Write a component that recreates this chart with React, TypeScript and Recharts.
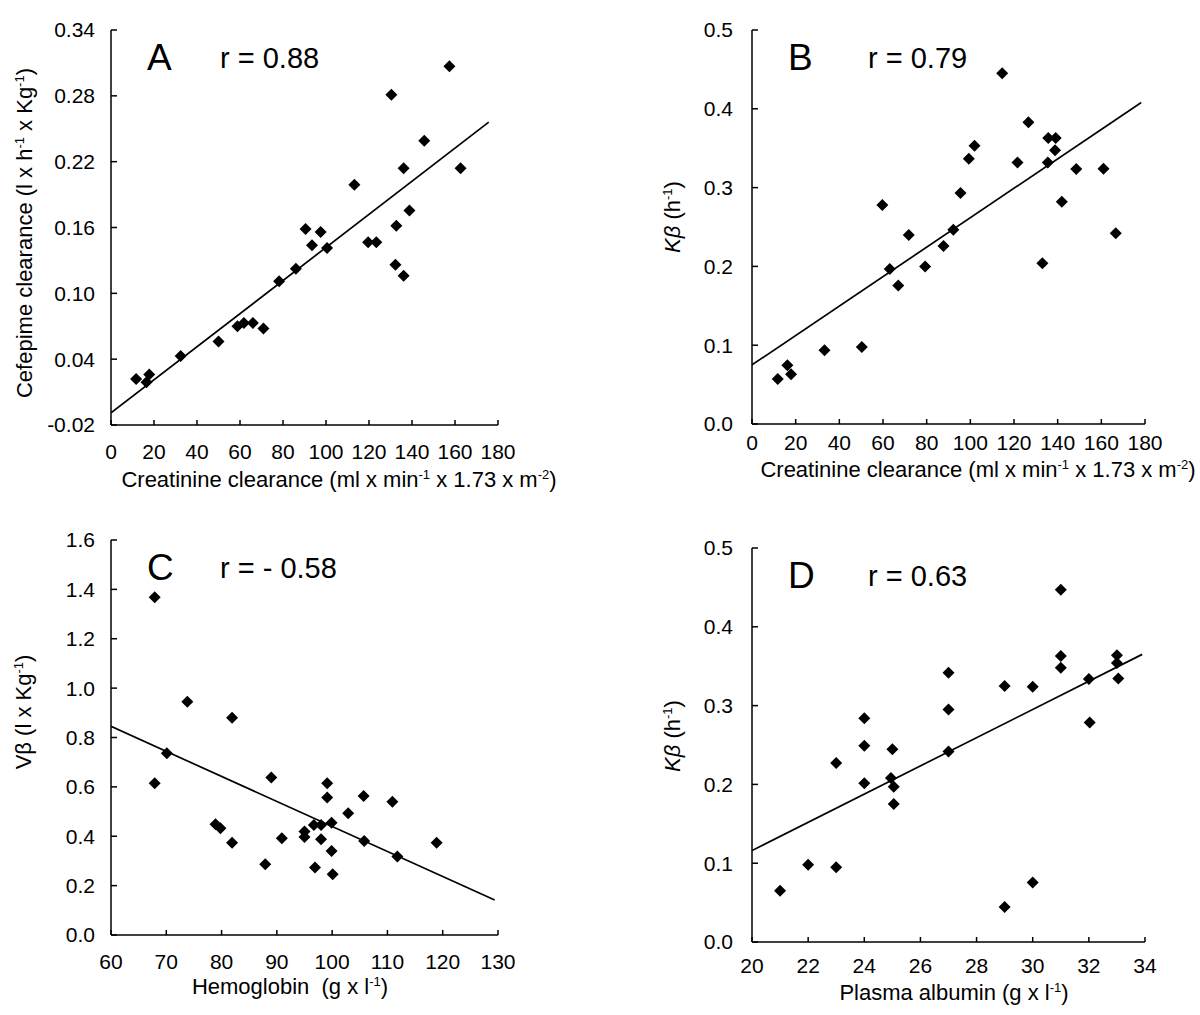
import React from 'react';
import { ScatterChart, Scatter, XAxis, YAxis } from 'recharts';

// ---------- Panel A: Cefepime clearance vs creatinine clearance ----------
const aX = [11.7, 16.5, 17.8, 32.4, 50, 58.8, 61.8, 66, 70.9, 78.2, 86, 90.5, 93.5, 97.5, 100.5, 113.2, 119.6, 123.4, 130.4, 132.7, 132.3, 136.1, 136.1, 138.8, 145.7, 157.4, 162.6];
const aY = [0.022, 0.019, 0.026, 0.043, 0.056, 0.07, 0.073, 0.073, 0.068, 0.111, 0.1225, 0.1586, 0.1438, 0.156, 0.1413, 0.199, 0.1465, 0.1465, 0.281, 0.1617, 0.126, 0.214, 0.116, 0.1756, 0.239, 0.307, 0.214];
const aLineX = [0, 175.7];
const aLineY = [-0.009, 0.256];
const aXTicks = [0, 20, 40, 60, 80, 100, 120, 140, 160, 180];
const aYTicks = [-0.02, 0.04, 0.1, 0.16, 0.22, 0.28, 0.34];

// ---------- Panel B: Kbeta vs creatinine clearance ----------
const bX = [11.8, 16.2, 17.9, 33.2, 50.3, 59.7, 63.1, 67, 71.8, 79.3, 87.7, 92.2, 95.5, 99.3, 101.9, 114.6, 121.6, 126.6, 133, 135.7, 135.5, 139.1, 138.8, 141.9, 148.5, 161, 166.6];
const bY = [0.057, 0.0746, 0.063, 0.0935, 0.0977, 0.278, 0.1967, 0.1757, 0.24, 0.2, 0.226, 0.2464, 0.293, 0.3366, 0.353, 0.445, 0.332, 0.383, 0.204, 0.363, 0.332, 0.363, 0.3475, 0.282, 0.3235, 0.324, 0.242];
const bLineX = [0, 178.3];
const bLineY = [0.075, 0.408];
const bXTicks = [0, 20, 40, 60, 80, 100, 120, 140, 160, 180];
const bYTicks = [0, 0.1, 0.2, 0.3, 0.4, 0.5];

// ---------- Panel C: Vbeta vs hemoglobin ----------
const cX = [67.9, 67.9, 70.1, 73.8, 81.9, 78.9, 79.8, 81.9, 87.9, 89.0, 90.9, 95.0, 95.0, 96.7, 96.9, 98.0, 98.0, 99.1, 99.1, 99.9, 99.9, 100.1, 102.9, 105.7, 105.8, 110.9, 111.8, 118.9];
const cY = [1.368, 0.615, 0.7365, 0.945, 0.88, 0.449, 0.432, 0.374, 0.2865, 0.638, 0.392, 0.419, 0.397, 0.446, 0.273, 0.446, 0.388, 0.615, 0.557, 0.455, 0.34, 0.246, 0.493, 0.5635, 0.381, 0.54, 0.3176, 0.374];
const cLineX = [60, 129.4];
const cLineY = [0.845, 0.142];
const cXTicks = [60, 70, 80, 90, 100, 110, 120, 130];
const cYTicks = [0, 0.2, 0.4, 0.6, 0.8, 1.0, 1.2, 1.4, 1.6];

// ---------- Panel D: Kbeta vs plasma albumin ----------
const dX = [21, 22, 23, 23, 24, 24, 24, 25, 24.95, 25.05, 25.05, 27, 27, 27, 29, 29, 30, 30, 31, 31, 31, 32, 32.03, 33, 33, 33.05];
const dY = [0.065, 0.098, 0.095, 0.227, 0.284, 0.249, 0.2014, 0.2445, 0.208, 0.197, 0.175, 0.295, 0.3416, 0.2416, 0.325, 0.0443, 0.324, 0.0756, 0.447, 0.363, 0.348, 0.3336, 0.2787, 0.364, 0.354, 0.3345];
const dLineX = [20, 33.9];
const dLineY = [0.116, 0.365];
const dXTicks = [20, 22, 24, 26, 28, 30, 32, 34];
const dYTicks = [0, 0.1, 0.2, 0.3, 0.4, 0.5];

const FONT = '"Liberation Sans", Arial, Helvetica, sans-serif';

const zip = (xs: number[], ys: number[]) => xs.map((x, i) => ({ x, y: ys[i] }));

const Diamond = (props: any) => {
  const { cx, cy } = props;
  if (cx == null || cy == null) return <g />;
  const r = 6;
  return <path d={`M${cx},${cy - r}L${cx + r},${cy}L${cx},${cy + r}L${cx - r},${cy}Z`} fill="#000" />;
};

const NoShape = () => <g />;

type PanelProps = {
  left: number;
  top: number;
  width: number;
  height: number;
  margin: { top: number; right: number; bottom: number; left: number };
  xDomain: [number, number];
  yDomain: [number, number];
  xTicks: number[];
  yTicks: number[];
  yDigits: number;
  points: { x: number; y: number }[];
  line: { x: number; y: number }[];
  xTickMargin: number;
  yTickMargin: number;
};

function Panel(p: PanelProps) {
  const tickStyle = { fill: '#000', fontSize: 21, fontFamily: FONT };
  return (
    <div style={{ position: 'absolute', left: p.left, top: p.top, width: p.width, height: p.height }}>
      <ScatterChart width={p.width} height={p.height} margin={p.margin}>
        <XAxis
          type="number"
          dataKey="x"
          domain={p.xDomain}
          ticks={p.xTicks}
          allowDataOverflow
          height={30}
          tickSize={-5}
          tickMargin={p.xTickMargin}
          axisLine={{ stroke: '#000', strokeWidth: 1.5 }}
          tickLine={{ stroke: '#000', strokeWidth: 1.5 }}
          tick={tickStyle}
          interval={0}
        />
        <YAxis
          type="number"
          dataKey="y"
          domain={p.yDomain}
          ticks={p.yTicks}
          allowDataOverflow
          width={60}
          tickSize={-6}
          tickMargin={p.yTickMargin}
          axisLine={{ stroke: '#000', strokeWidth: 1.5 }}
          tickLine={{ stroke: '#000', strokeWidth: 1.5 }}
          tick={tickStyle}
          tickFormatter={(v: number) => v.toFixed(p.yDigits)}
          interval={0}
        />
        <Scatter data={p.line} line={{ stroke: '#000', strokeWidth: 1.7 }} shape={NoShape} isAnimationActive={false} />
        <Scatter data={p.points} shape={Diamond} isAnimationActive={false} />
      </ScatterChart>
    </div>
  );
}

const Sup = ({ children, size = 13 }: { children: React.ReactNode; size?: number }) => (
  <tspan dy={-8} fontSize={size}>{children}</tspan>
);

export default function App() {
  const titleSize = 22;
  const txt = { fontFamily: FONT, fill: '#000', style: { whiteSpace: 'pre' as const } };
  return (
    <div style={{ position: 'absolute', left: 0, top: 0, width: 1200, height: 1015, background: '#fff', overflow: 'hidden' }}>
      <Panel
        left={0} top={0} width={600} height={500}
        margin={{ top: 30, right: 102, bottom: 45, left: 51 }}
        xDomain={[0, 180]} yDomain={[-0.02, 0.34]}
        xTicks={aXTicks} yTicks={aYTicks} yDigits={2}
        points={zip(aX, aY)} line={zip(aLineX, aLineY)}
        xTickMargin={24} yTickMargin={22}
      />
      <Panel
        left={600} top={0} width={600} height={500}
        margin={{ top: 30, right: 55, bottom: 46, left: 92 }}
        xDomain={[0, 180]} yDomain={[0, 0.5]}
        xTicks={bXTicks} yTicks={bYTicks} yDigits={1}
        points={zip(bX, bY)} line={zip(bLineX, bLineY)}
        xTickMargin={16} yTickMargin={25}
      />
      <Panel
        left={0} top={500} width={600} height={515}
        margin={{ top: 40, right: 102, bottom: 50, left: 51 }}
        xDomain={[60, 130]} yDomain={[0, 1.6]}
        xTicks={cXTicks} yTicks={cYTicks} yDigits={1}
        points={zip(cX, cY)} line={zip(cLineX, cLineY)}
        xTickMargin={24} yTickMargin={22}
      />
      <Panel
        left={600} top={500} width={600} height={515}
        margin={{ top: 48, right: 55, bottom: 43, left: 92 }}
        xDomain={[20, 34]} yDomain={[0, 0.5]}
        xTicks={dXTicks} yTicks={dYTicks} yDigits={1}
        points={zip(dX, dY)} line={zip(dLineX, dLineY)}
        xTickMargin={21} yTickMargin={25}
      />
      <svg width={1200} height={1015} style={{ position: 'absolute', left: 0, top: 0, pointerEvents: 'none' }}>
        {/* Panel letters and r values */}
        <text x={147} y={70} fontSize={37} {...txt}>A</text>
        <text x={220} y={68} fontSize={29} {...txt}>r = 0.88</text>
        <text x={788} y={70} fontSize={37} {...txt}>B</text>
        <text x={868} y={68} fontSize={29} {...txt}>r = 0.79</text>
        <text x={147} y={580} fontSize={37} {...txt}>C</text>
        <text x={220} y={578} fontSize={29} {...txt}>r = - 0.58</text>
        <text x={788} y={588} fontSize={37} {...txt}>D</text>
        <text x={868} y={586} fontSize={29} {...txt}>r = 0.63</text>

        {/* X axis titles */}
        <text x={339} y={487} fontSize={titleSize} textAnchor="middle" {...txt}>
          Creatinine clearance (ml x min<Sup>-1</Sup><tspan dy={8}> x 1.73 x m</tspan><Sup>-2</Sup><tspan dy={8}>)</tspan>
        </text>
        <text x={978} y={477} fontSize={titleSize} textAnchor="middle" {...txt}>
          Creatinine clearance (ml x min<Sup>-1</Sup><tspan dy={8}> x 1.73 x m</tspan><Sup>-2</Sup><tspan dy={8}>)</tspan>
        </text>
        <text x={290} y={994} fontSize={titleSize} textAnchor="middle" {...txt}>
          Hemoglobin  (g x l<Sup>-1</Sup><tspan dy={8}>)</tspan>
        </text>
        <text x={954} y={1000} fontSize={titleSize} textAnchor="middle" {...txt}>
          Plasma albumin (g x l<Sup>-1</Sup><tspan dy={8}>)</tspan>
        </text>

        {/* Y axis titles */}
        <text x={32} y={233} fontSize={titleSize} textAnchor="middle" transform="rotate(-90 32 233)" {...txt}>
          Cefepime clearance (l x h<Sup>-1</Sup><tspan dy={8}> x Kg</tspan><Sup>-1</Sup><tspan dy={8}>)</tspan>
        </text>
        <text x={680} y={217} fontSize={titleSize} textAnchor="middle" transform="rotate(-90 680 217)" {...txt}>
          <tspan fontStyle="italic">Kβ</tspan> (h<Sup>-1</Sup><tspan dy={8}>)</tspan>
        </text>
        <text x={31} y={712} fontSize={titleSize} textAnchor="middle" transform="rotate(-90 31 712)" {...txt}>
          Vβ (l x Kg<Sup>-1</Sup><tspan dy={8}>)</tspan>
        </text>
        <text x={680} y={736} fontSize={titleSize} textAnchor="middle" transform="rotate(-90 680 736)" {...txt}>
          <tspan fontStyle="italic">Kβ</tspan> (h<Sup>-1</Sup><tspan dy={8}>)</tspan>
        </text>
      </svg>
    </div>
  );
}
